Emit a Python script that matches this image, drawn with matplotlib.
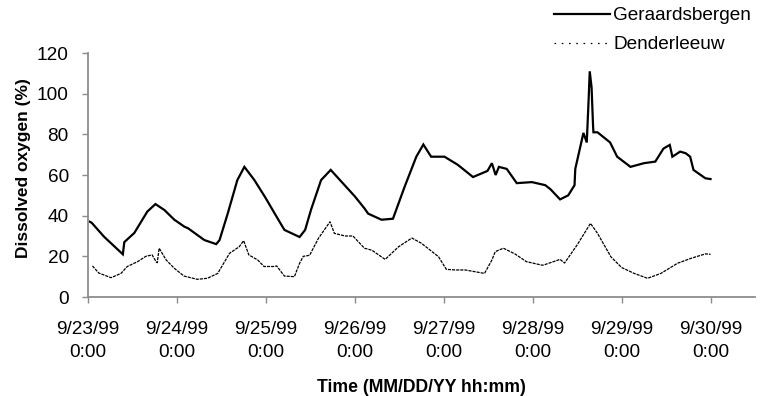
import matplotlib
matplotlib.use('Agg')
import matplotlib.pyplot as plt
from matplotlib.lines import Line2D
import pandas as pd

plt.rcParams['font.family'] = ['Liberation Sans', 'DejaVu Sans']

start = pd.Timestamp('1999-09-23 00:00')

# Geraardsbergen (hours since start, dissolved oxygen %)
g_hours = [0.5, 1.0, 4.3, 9.4, 9.8, 12.5, 16.0, 18.2, 20.6, 23.3, 26.0, 27.0,
           31.4, 34.6, 35.5, 37.7, 40.3, 42.2, 44.9, 48.0, 50.4, 53.0, 57.1,
           58.6, 60.2, 62.9, 65.5, 68.4, 72.0, 74.6, 75.6, 79.2, 82.3, 85.4,
           88.6, 90.5, 92.6, 96.2, 99.8, 103.9, 107.8, 109.0, 110.0, 110.9,
           113.0, 115.7, 119.8, 123.4, 124.8, 127.4, 129.6, 131.3, 131.5,
           133.7, 134.6, 135.1, 135.4, 135.9, 136.3, 136.4, 137.5, 140.9,
           142.8, 146.4, 150.0, 153.1, 155.3, 157.0, 157.7, 159.8, 161.3,
           162.5, 163.4, 166.6, 168.0]
g_values = [37.0, 36.5, 29.7, 21.0, 27.0, 31.5, 42.0, 45.7, 42.8, 38.0, 34.6,
            33.8, 28.0, 26.0, 28.0, 41.0, 57.5, 64.0, 57.5, 48.5, 41.0, 33.0,
            29.5, 33.0, 43.0, 57.5, 62.5, 56.7, 49.5, 43.6, 41.0, 38.0, 38.5,
            54.0, 69.0, 75.0, 69.0, 69.0, 65.0, 59.0, 62.0, 65.8, 60.0, 64.0,
            63.0, 56.0, 56.5, 55.0, 53.0, 48.0, 50.0, 55.0, 63.0, 80.7, 76.0,
            97.0, 111.0, 103.0, 84.0, 81.0, 81.0, 76.0, 69.0, 64.0, 65.8,
            66.6, 73.0, 74.8, 69.0, 71.5, 70.7, 69.0, 62.5, 58.4, 58.0]

# Denderleeuw (hours since start, dissolved oxygen %)
d_hours = [1.2, 2.9, 6.2, 8.9, 10.6, 13.4, 15.6, 17.3, 18.5, 18.7, 19.2, 21.1,
           23.3, 25.9, 29.5, 32.2, 35.0, 38.2, 40.8, 42.0, 43.4, 45.8, 47.5,
           50.4, 50.9, 53.0, 55.7, 57.1, 58.1, 59.8, 62.2, 65.3, 66.5, 69.4,
           71.5, 74.6, 76.6, 80.2, 83.8, 87.4, 90.0, 94.6, 96.7, 99.1, 101.8,
           107.0, 109.0, 109.9, 112.1, 115.2, 118.3, 122.4, 122.9, 127.4,
           128.6, 132.0, 135.6, 137.5, 141.1, 144.0, 147.4, 151.0, 154.6,
           159.1, 162.7, 166.6, 168.0]
d_values = [15.3, 11.8, 9.5, 11.6, 15.0, 17.4, 20.0, 20.7, 17.0, 16.9, 24.0,
            18.2, 14.1, 10.3, 8.7, 9.2, 11.6, 21.5, 24.7, 27.7, 20.7, 18.2,
            15.0, 15.0, 15.3, 10.3, 10.0, 16.6, 20.0, 20.5, 28.9, 37.0, 31.3,
            30.0, 30.0, 24.0, 23.0, 18.5, 24.7, 29.0, 26.4, 19.8, 13.6, 13.3,
            13.3, 11.6, 18.2, 22.3, 24.0, 21.2, 17.4, 15.7, 15.7, 18.5, 16.7,
            25.6, 36.2, 31.3, 19.8, 14.5, 11.6, 9.2, 11.6, 16.6, 19.0, 21.2,
            21.0]

tick_labels = ['9/23/99\n0:00', '9/24/99\n0:00', '9/25/99\n0:00',
               '9/26/99\n0:00', '9/27/99\n0:00', '9/28/99\n0:00',
               '9/29/99\n0:00', '9/30/99\n0:00']
y_ticks = [0, 20, 40, 60, 80, 100, 120]
series_names = ['Geraardsbergen', 'Denderleeuw']

W, H = 760, 396
fig = plt.figure(figsize=(W / 100, H / 100), dpi=100)
ax = fig.add_axes([88 / W, 1 - 297 / H, (755 - 88) / W, (297 - 53) / H])

g_t = start + pd.to_timedelta(g_hours, unit='h')
d_t = start + pd.to_timedelta(d_hours, unit='h')
ax.plot(g_t, g_values, color='black', lw=1.6, solid_joinstyle='miter')
ax.plot(d_t, d_values, color='black', lw=0.9, ls=(0, (2.5, 0.8)))

ax.set_xlim(start, start + pd.Timedelta(hours=180))
ax.set_ylim(0, 120)
ax.set_yticks(y_ticks)
ax.set_xticks(pd.date_range(start, periods=len(tick_labels), freq='D'))
ax.set_xticklabels(tick_labels, linespacing=1.5)

for s in ['top', 'right']:
    ax.spines[s].set_visible(False)
for s in ['left', 'bottom']:
    ax.spines[s].set_color('#8c8c8c')
    ax.spines[s].set_linewidth(1.3)
ax.tick_params(axis='both', direction='out', length=4.5, width=1.0,
               color='#8c8c8c', labelsize=13.7, labelcolor='black')
ax.tick_params(axis='y', pad=9.3)
ax.tick_params(axis='x', pad=12.5)

ax.set_ylabel('Dissolved oxygen (%)', fontsize=12.5, fontweight='bold')
ax.yaxis.set_label_coords((24 - 88) / 667, (297 - 168) / 244)
ax.yaxis.label.set_va('center')
ax.set_xlabel('Time (MM/DD/YY hh:mm)', fontsize=12.7, fontweight='bold')
ax.xaxis.set_label_coords(0.5, (297 - 387) / 244)
ax.xaxis.label.set_va('center')

handles = [Line2D([], [], color='black', lw=1.6),
           Line2D([], [], color='black', lw=0.9, ls=(0, (1.3, 4.5)))]
fig.legend(handles, series_names, loc='upper left',
           bbox_to_anchor=(554 / W, 1 - 7 / H),
           frameon=False, fontsize=13.7, handlelength=2.95,
           handletextpad=0.17, labelspacing=0.62, borderpad=0,
           borderaxespad=0)

fig.savefig('out.png', dpi=100)
